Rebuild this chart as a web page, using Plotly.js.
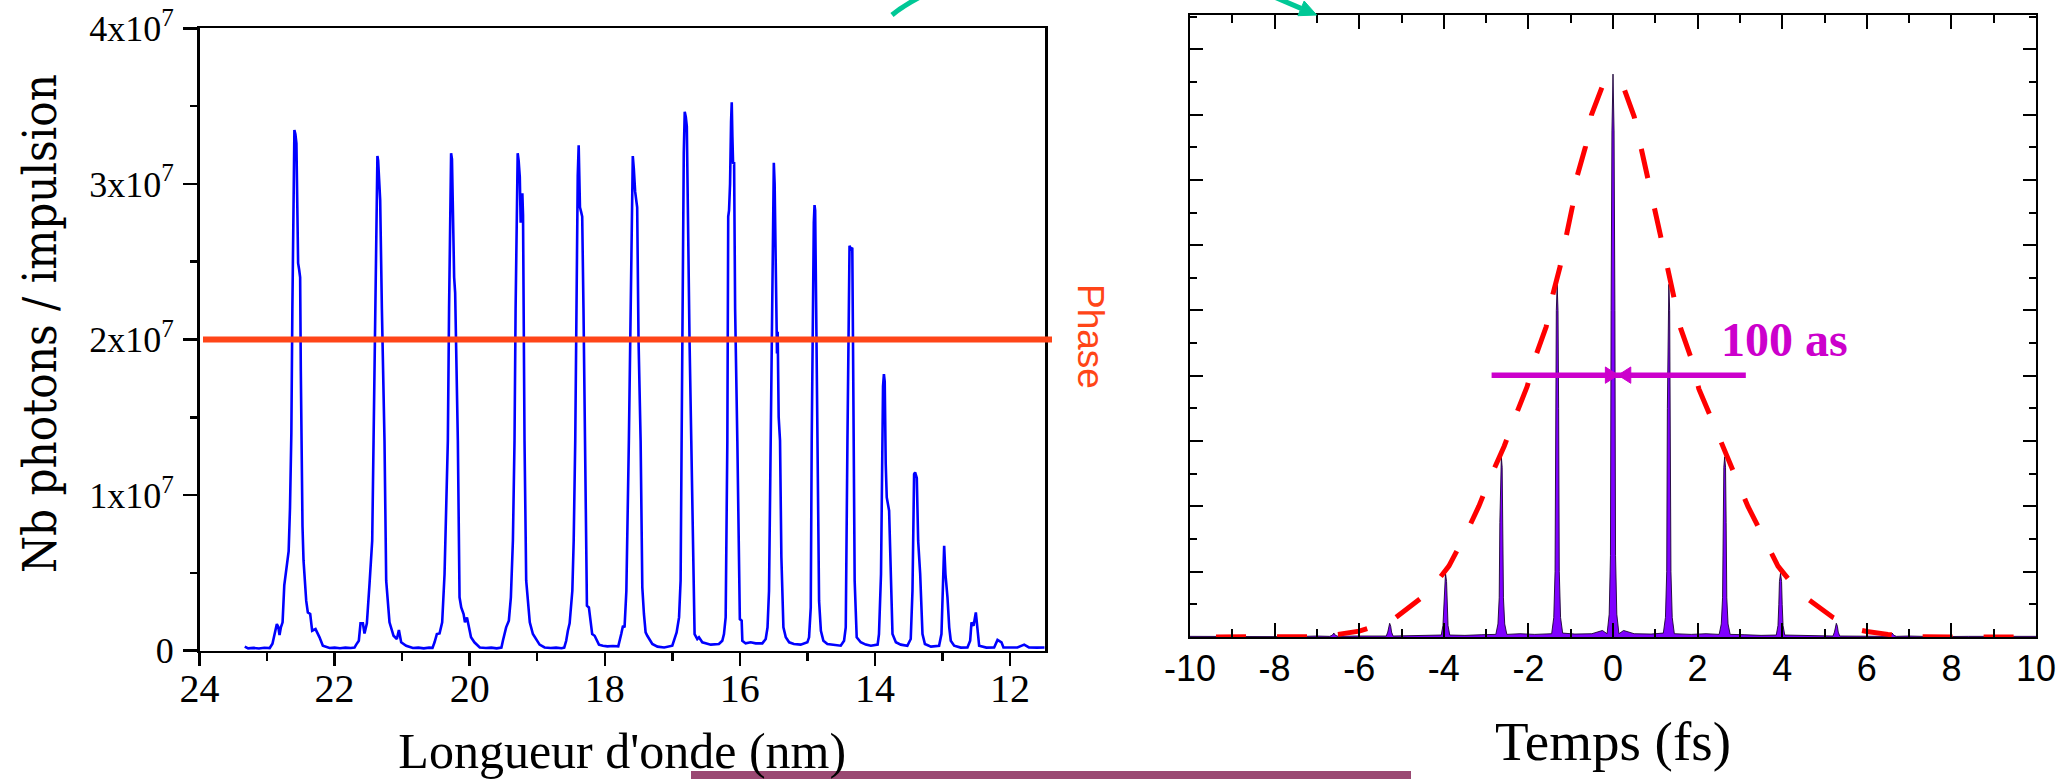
<!DOCTYPE html>
<html><head><meta charset="utf-8">
<script src="https://cdn.plot.ly/plotly-3.0.1.min.js"></script>
<style>html,body{margin:0;padding:0;background:#fff;overflow:hidden}</style>
</head><body><div id="chart" style="width:2058px;height:779px"></div>
<script>
// ---- Left panel: harmonic spectrum (wavelength in nm, photons per pulse in units of 1e6) ----
const wavelengthNm = [
23.33,23.28,23.20,23.12,23.04,22.96,22.92,22.88,22.855,22.835,22.815,22.795,22.77,22.745,22.71,22.68,22.66,22.64,22.625,22.61,22.595,22.58,22.565,22.55,22.54,22.525,22.51,22.50,22.49,22.475,22.46,22.44,22.42,22.396,22.361,22.332,22.282,22.223,22.174,22.075,22.0,21.92,21.84,21.76,21.705,
21.68,21.641,21.616,21.581,21.557,21.522,21.483,21.443,21.423,21.40,21.38,21.366,21.355,21.34,21.325,21.30,21.261,21.236,21.211,21.187,21.127,21.078,21.048,21.014,20.94,20.841,20.76,20.68,20.60,20.55,
20.52,20.486,20.446,20.407,20.372,20.35,20.323,20.305,20.29,20.275,20.262,20.245,20.23,20.215,20.19,20.175,20.15,20.125,20.09,20.07,20.04,20.01,19.98,19.93,19.85,19.76,19.68,19.60,19.53,
19.508,19.484,19.46,19.42,19.39,19.36,19.336,19.32,19.30,19.289,19.275,19.258,19.245,19.235,19.22,19.21,19.198,19.188,19.163,19.138,19.11,19.064,19.015,18.965,18.891,18.80,18.72,18.64,18.60,
18.571,18.546,18.52,18.48,18.46,18.437,18.42,18.40,18.386,18.375,18.367,18.35,18.334,18.315,18.289,18.264,18.235,18.215,18.186,18.15,18.116,18.086,18.028,17.96,17.88,17.80,
17.756,17.73,17.707,17.68,17.643,17.62,17.60,17.585,17.57,17.55,17.52,17.50,17.469,17.444,17.42,17.395,17.37,17.33,17.296,17.22,17.12,17.0,
16.975,16.936,16.90,16.877,16.862,16.845,16.83,16.816,16.80,16.785,16.77,16.745,16.719,16.69,16.67,16.63,16.605,16.556,16.43,16.31,16.26,
16.235,16.21,16.185,16.172,16.16,16.145,16.13,16.12,16.11,16.10,16.085,16.07,16.037,16.012,16.0,15.973,15.963,15.914,15.84,15.765,15.667,15.617,15.59,15.568,
15.543,15.525,15.507,15.497,15.485,15.47,15.457,15.45,15.44,15.425,15.405,15.385,15.355,15.32,15.27,15.20,15.10,15.0,14.975,14.95,
14.936,14.92,14.905,14.894,14.885,14.87,14.852,14.827,14.80,14.763,14.704,14.605,14.506,14.457,14.432,
14.407,14.39,14.376,14.36,14.335,14.325,14.319,14.30,14.27,14.21,14.136,14.06,13.96,13.94,13.91,
13.889,13.88,13.867,13.855,13.84,13.825,13.79,13.765,13.74,13.69,13.617,13.52,13.47,13.444,13.42,13.405,13.38,13.36,13.33,13.296,13.26,13.17,13.05,13.015,12.99,12.975,12.956,12.926,12.90,12.877,12.827,12.73,12.63,12.59,12.57,12.54,12.506,12.48,12.457,12.35,12.235,12.185,12.16,12.126,12.097,11.99,11.89,11.79,11.72,11.60,11.49
];
const photonsMillions = [
0.26,0.15,0.18,0.14,0.19,0.17,0.45,1.2,1.71,1.55,1.0,1.5,1.82,4.2,5.4,6.4,9.2,14.0,22.0,30.0,33.46,33.2,32.6,28.0,24.9,24.5,24.0,18.0,12.0,8.0,5.8,4.2,3.2,2.46,2.36,1.28,1.39,0.86,0.32,0.17,0.2,0.16,0.2,0.17,0.2,
0.39,0.64,1.76,1.76,1.11,1.76,4.28,7.07,13.5,22.0,29.0,31.79,31.5,29.5,28.96,22.0,13.5,4.5,3.0,1.82,0.96,0.75,1.33,0.54,0.32,0.17,0.2,0.15,0.2,0.18,
0.54,1.07,1.11,1.82,4.93,8.14,13.5,22.0,29.0,31.97,31.6,27.0,24.0,23.0,18.0,13.5,3.43,2.78,2.36,1.82,2.14,1.5,0.86,0.54,0.21,0.17,0.2,0.15,0.2,
0.64,1.18,1.5,1.93,3.43,7.07,13.5,22.0,30.0,31.97,31.5,30.46,27.5,28.3,29.4,28.0,20.0,13.5,4.5,3.2,1.82,1.07,0.75,0.39,0.21,0.17,0.2,0.16,0.2,
0.64,1.28,1.76,3.85,7.07,13.5,22.0,30.5,32.48,31.0,28.5,28.2,27.9,22.0,13.5,2.9,2.78,1.93,1.07,0.96,0.69,0.39,0.32,0.28,0.3,0.28,
1.07,1.6,1.5,3.85,13.5,22.0,30.0,31.79,31.0,29.5,28.5,20.0,13.5,4.07,2.36,1.18,0.96,0.64,0.43,0.26,0.21,0.32,
0.64,1.18,2.14,4.5,13.5,24.0,32.0,34.64,34.3,33.7,28.0,20.0,13.5,4.93,1.07,0.75,0.86,0.54,0.39,0.43,0.64,
1.07,2.14,13.5,27.9,28.3,30.0,34.0,35.24,33.0,31.3,31.4,22.0,13.5,7.07,2.03,1.93,0.64,0.47,0.54,0.47,0.47,0.75,1.5,3.85,
13.5,24.0,30.5,31.36,30.0,24.0,21.5,19.1,20.5,15.0,13.5,6.0,1.5,0.86,0.54,0.43,0.39,0.54,0.86,2.78,
13.5,22.0,27.5,28.64,28.3,22.0,13.5,3.2,1.28,0.64,0.43,0.39,0.32,0.64,1.5,
13.5,22.0,26.03,25.8,25.9,20.0,13.5,4.5,0.86,0.54,0.39,0.32,0.39,1.07,4.93,
13.5,17.0,17.78,17.3,12.0,9.85,9.0,5.35,1.07,0.54,0.39,0.32,0.75,3.85,11.35,11.46,11.1,7.07,4.93,1.07,0.43,0.26,0.32,1.07,4.93,6.74,4.93,3.43,1.5,0.64,0.32,0.2,0.21,0.64,1.82,1.6,2.46,1.5,0.32,0.2,0.21,0.69,0.64,0.54,0.21,0.2,0.21,0.39,0.21,0.2,0.21
];
const wavelengthTicks = [24, 22, 20, 18, 16, 14, 12];
const photonTickVals = [0, 1e7, 2e7, 3e7, 4e7];
const photonTickText = ['0', '1x10<sup>7</sup>', '2x10<sup>7</sup>', '3x10<sup>7</sup>', '4x10<sup>7</sup>'];
const phaseLevel = 2e7;
const leftYTitle = 'Nb photons / impulsion';
const leftXTitle = "Longueur d'onde (nm)";
const phaseLabel = 'Phase';

// ---- Right panel: attosecond pulse train (time in fs, intensity arb. units) ----
const timeFs = [
-10,-9.2,-8.4,-7.6,-7.0,-6.7,-6.64,-6.60,-6.56,-6.5,-6.1,-5.6,
-5.36,-5.325,-5.305,-5.28,-5.255,-5.235,-5.2,-4.8,-4.4,
-4.06,-4.02,-4.0,-3.985,-3.96,-3.935,-3.92,-3.9,-3.86,-3.5,-3.1,
-2.77,-2.72,-2.69,-2.675,-2.66,-2.64,-2.62,-2.605,-2.59,-2.56,-2.51,-2.2,-1.85,
-1.45,-1.40,-1.37,-1.355,-1.34,-1.32,-1.30,-1.285,-1.27,-1.24,-1.19,-0.9,-0.5,-0.25,
-0.14,-0.09,-0.06,-0.045,-0.025,0,0.025,0.045,0.06,0.09,0.14,
0.25,0.5,0.9,1.19,1.24,1.27,1.285,1.30,1.32,1.34,1.355,1.37,1.40,1.45,
1.85,2.2,2.51,2.56,2.59,2.605,2.62,2.64,2.66,2.675,2.69,2.72,2.77,
3.1,3.5,3.86,3.9,3.92,3.935,3.96,3.985,4.0,4.02,4.06,
4.4,4.8,5.2,5.235,5.255,5.28,5.305,5.325,5.36,5.6,6.1,6.5,6.56,6.60,6.64,6.7,7.0,7.6,8.4,9.2,10
];
const intensity = [
0.02,0.01,0.02,0.01,0.03,0.02,0.05,0.12,0.05,0.02,0.03,0.03,
0.03,0.15,0.33,0.42,0.33,0.15,0.03,0.04,0.05,
0.06,0.35,1.0,1.7,1.95,1.7,1.0,0.35,0.06,0.05,0.07,
0.08,0.4,1.2,3.5,5.2,5.52,5.2,3.5,1.2,0.4,0.08,0.1,0.08,
0.1,0.6,2.0,7.0,10.0,10.78,10.0,7.0,2.0,0.6,0.12,0.09,0.1,0.2,
0.1,0.7,2.5,10.0,15.5,17.24,15.5,10.0,2.5,0.7,0.1,
0.2,0.1,0.09,0.12,0.6,2.0,7.0,10.0,10.8,10.0,7.0,2.0,0.6,0.1,
0.08,0.1,0.08,0.4,1.2,3.5,5.2,5.52,5.2,3.5,1.2,0.4,0.08,
0.07,0.05,0.06,0.35,1.0,1.7,1.95,1.7,1.0,0.35,0.06,
0.05,0.04,0.03,0.15,0.33,0.42,0.33,0.15,0.03,0.03,0.03,0.02,0.05,0.12,0.05,0.02,0.03,0.01,0.02,0.01,0.02
];
const envelopeTime = [-10,-8,-7,-6.5,-6.0,-5.78,-5.13,-4.37,-3.88,-3.47,-3.17,-2.86,-2.57,-2.28,-2.03,-1.81,-1.58,-1.42,-1.25,-1.10,-0.96,-0.84,-0.65,-0.51,-0.26,0,
0.26,0.50,0.65,0.82,0.97,1.12,1.29,1.43,1.6,1.83,2.03,2.29,2.59,2.88,3.19,3.51,3.90,4.41,5.2,5.85,6.0,6.5,7,8,10];
const envelopeValue = [0,0,0.01,0.08,0.18,0.27,0.60,1.36,2.17,3.18,4.01,5.01,5.85,6.85,7.67,8.67,9.5,10.5,11.35,12.31,13.18,14.15,15.02,15.99,16.84,17.1,
16.8,15.94,15.02,14.15,13.13,12.31,11.3,10.5,9.45,8.6,7.6,6.8,5.83,4.96,4.0,3.14,2.17,1.35,0.6,0.21,0.17,0.08,0.01,0,0];
const timeTickVals = [-10, -8, -6, -4, -2, 0, 2, 4, 6, 8, 10];
const timeTickText = ['-10', '-8', '-6', '-4', '-2', '0', '2', '4', '6', '8', '10'];
const rightXTitle = 'Temps (fs)';
const fwhmLabel = '100 as';
const fwhmLevel = 8.02;
const fwhmLeft = -2.87, fwhmRight = 3.14, fwhmCenter = 0.12;

const W = 2058, H = 779;
const px = v => v / W;
const py = v => 1 - v / H;

const traces = [
  {x: wavelengthNm, y: photonsMillions.map(v => v * 1e6), type: 'scatter', mode: 'lines',
   line: {color: '#0000ff', width: 2.6}, xaxis: 'x', yaxis: 'y', hoverinfo: 'skip'},
  {x: timeFs, y: intensity, type: 'scatter', mode: 'lines', fill: 'tozeroy', fillcolor: '#7f00ff',
   line: {color: '#1a0033', width: 0.9}, xaxis: 'x2', yaxis: 'y2', hoverinfo: 'skip'},
  {x: envelopeTime, y: envelopeValue, type: 'scatter', mode: 'lines',
   line: {color: '#ff0000', width: 5, dash: '0px,26px,30px,5px'}, xaxis: 'x2', yaxis: 'y2', hoverinfo: 'skip'}
];

const serif = 'Liberation Serif, Times New Roman, serif';
const sans = 'Liberation Sans, Arial, sans-serif';

// arrowhead geometry (magenta FWHM arrows, in data units of the right panel)
const headLen = 0.3, headHalf = 0.25;
// teal arrow geometry (pixels)
const tealTip = [1316.7, 15], tealTail = [1272, -4];
const tdx = tealTip[0] - tealTail[0], tdy = tealTip[1] - tealTail[1];
const tlen = Math.hypot(tdx, tdy), ux = tdx / tlen, uy = tdy / tlen;
const tHeadLen = 17, tHeadHalf = 8;
const tBase = [tealTip[0] - ux * tHeadLen, tealTip[1] - uy * tHeadLen];
const tC1 = [tBase[0] - uy * tHeadHalf, tBase[1] + ux * tHeadHalf];
const tC2 = [tBase[0] + uy * tHeadHalf, tBase[1] - ux * tHeadHalf];
const P = p => px(p[0]) + ',' + py(p[1]);

const layout = {
  width: W, height: H,
  margin: {l: 0, r: 0, t: 0, b: 0, pad: 0},
  paper_bgcolor: '#ffffff', plot_bgcolor: 'rgba(0,0,0,0)',
  showlegend: false,
  xaxis: {
    domain: [px(199.5), px(1045)], range: [24, 11.482], anchor: 'y',
    tickmode: 'array', tickvals: wavelengthTicks,
    ticks: 'outside', ticklen: 13, tickwidth: 2.5, tickcolor: '#000',
    minor: {dtick: 1, tick0: 0, ticks: 'outside', ticklen: 8, tickwidth: 2.5, tickcolor: '#000', showgrid: false},
    showline: true, linewidth: 2.5, linecolor: '#000', mirror: true,
    showgrid: false, zeroline: false,
    tickfont: {family: serif, size: 40, color: '#000'}, ticklabelstandoff: -12,
    title: {text: leftXTitle, font: {family: serif, size: 50, color: '#000'}, standoff: 36}
  },
  yaxis: {
    domain: [py(650.7), py(28.3)], range: [0, 4e7], anchor: 'x',
    tickmode: 'array', tickvals: photonTickVals, ticktext: photonTickText,
    ticks: 'outside', ticklen: 14, tickwidth: 2.5, tickcolor: '#000',
    minor: {dtick: 5e6, tick0: 0, ticks: 'outside', ticklen: 7, tickwidth: 2.5, tickcolor: '#000', showgrid: false},
    showline: true, linewidth: 2.5, linecolor: '#000', mirror: true,
    showgrid: false, zeroline: false,
    tickfont: {family: serif, size: 36, color: '#000'}, ticklabelstandoff: 2
  },
  xaxis2: {
    domain: [px(1190), px(2036)], range: [-10, 10], anchor: 'y2',
    tickmode: 'array', tickvals: timeTickVals, ticktext: timeTickText,
    ticks: 'inside', ticklen: 14, tickwidth: 2, tickcolor: '#000',
    minor: {dtick: 1, tick0: 0, ticks: 'inside', ticklen: 8, tickwidth: 2, tickcolor: '#000', showgrid: false},
    showline: true, linewidth: 2, linecolor: '#000', mirror: 'ticks',
    showgrid: false, zeroline: false,
    tickfont: {family: sans, size: 36, color: '#000'}, ticklabelstandoff: -1,
    title: {text: rightXTitle, font: {family: serif, size: 55, color: '#000'}, standoff: 33}
  },
  yaxis2: {
    domain: [py(637), py(15)], range: [0, 19.05], anchor: 'x2',
    tick0: 0, dtick: 2, showticklabels: false,
    ticks: 'inside', ticklen: 13, tickwidth: 2, tickcolor: '#000',
    minor: {dtick: 1, tick0: 0, ticks: 'inside', ticklen: 7, tickwidth: 2, tickcolor: '#000', showgrid: false},
    showline: true, linewidth: 2, linecolor: '#000', mirror: 'ticks',
    showgrid: false, zeroline: false
  },
  shapes: [
    {type: 'line', xref: 'paper', yref: 'y', x0: px(203), x1: px(1052), y0: phaseLevel, y1: phaseLevel,
     line: {color: '#ff4518', width: 6}},
    {type: 'line', xref: 'x2', yref: 'y2', x0: fwhmLeft, x1: fwhmRight, y0: fwhmLevel, y1: fwhmLevel,
     line: {color: '#cc00cc', width: 5.5}},
    {type: 'path', xref: 'x2', yref: 'y2',
     path: 'M' + (fwhmCenter - headLen) + ',' + (fwhmLevel + headHalf) + ' L' + fwhmCenter + ',' + fwhmLevel +
           ' L' + (fwhmCenter - headLen) + ',' + (fwhmLevel - headHalf) + ' Z',
     fillcolor: '#cc00cc', line: {color: '#cc00cc', width: 1}},
    {type: 'path', xref: 'x2', yref: 'y2',
     path: 'M' + (fwhmCenter + headLen) + ',' + (fwhmLevel + headHalf) + ' L' + fwhmCenter + ',' + fwhmLevel +
           ' L' + (fwhmCenter + headLen) + ',' + (fwhmLevel - headHalf) + ' Z',
     fillcolor: '#cc00cc', line: {color: '#cc00cc', width: 1}},
    {type: 'path', xref: 'paper', yref: 'paper',
     path: 'M' + P([892, 15]) + ' Q' + P([904, 5]) + ' ' + P([924, -5]),
     line: {color: '#00c896', width: 5}},
    {type: 'line', xref: 'paper', yref: 'paper', x0: px(tealTail[0]), y0: py(tealTail[1]), x1: px(tBase[0]), y1: py(tBase[1]),
     line: {color: '#00c896', width: 5}},
    {type: 'path', xref: 'paper', yref: 'paper', path: 'M' + P(tealTip) + ' L' + P(tC1) + ' L' + P(tC2) + ' Z',
     fillcolor: '#00c896', line: {color: '#00c896', width: 1}},
    {type: 'rect', xref: 'paper', yref: 'paper', x0: px(691), x1: px(1411), y0: py(790), y1: py(771),
     fillcolor: '#9a4872', line: {width: 0}}
  ],
  annotations: [
    {xref: 'paper', yref: 'paper', x: px(39), y: py(324), xanchor: 'center', yanchor: 'middle',
     text: leftYTitle, textangle: -90, showarrow: false,
     font: {family: 'DejaVu Serif Condensed, DejaVu Serif, serif', size: 47, color: '#000'}},
    {xref: 'paper', yref: 'paper', x: px(1090), y: py(336), xanchor: 'center', yanchor: 'middle',
     text: phaseLabel, textangle: 90, showarrow: false,
     font: {family: sans, size: 37, color: '#ff4518'}},
    {xref: 'x2', yref: 'y2', x: 4.06, y: 9.1, xanchor: 'center', yanchor: 'middle',
     text: '<b>' + fwhmLabel + '</b>', showarrow: false,
     font: {family: serif, size: 48, color: '#cc00cc'}}
  ]
};

Plotly.newPlot('chart', traces, layout, {displayModeBar: false, staticPlot: true});
</script>
</body></html>
